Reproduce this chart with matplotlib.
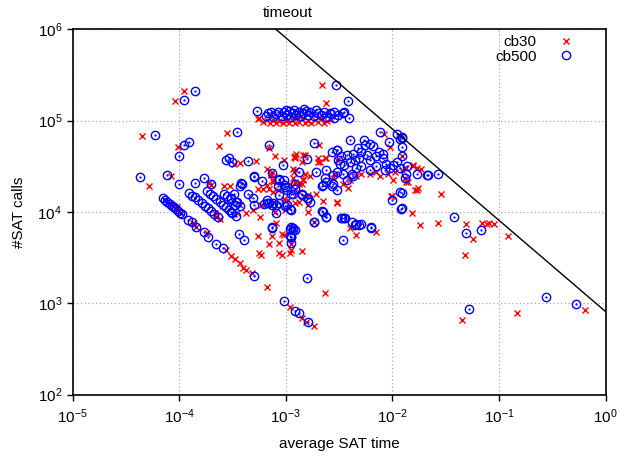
import matplotlib
matplotlib.use("Agg")
import matplotlib.pyplot as plt
import numpy as np

# (log10 avg SAT time, log10 #SAT calls)
CB30 = [
    (-3.95, 5.33), (-4.04, 5.22), (-4.35, 4.83), (-3.55, 4.87), (-4.01, 4.71), (-3.63, 4.72),
    (-4.08, 4.39), (-4.28, 4.29), (-3.72, 4.32), (-3.70, 4.30), (-3.58, 4.28), (-3.52, 4.29),
    (-3.49, 4.53), (-3.43, 4.54), (-3.28, 4.56), (-3.18, 4.30), (-3.10, 4.61), (-3.18, 4.47),
    (-3.14, 4.42), (-2.92, 4.60), (-2.92, 4.44),
    # diagonal bands
    (-4.13, 4.13), (-4.07, 4.08), (-4.03, 4.03), (-3.98, 3.99), (-4.02, 4.05), (-3.87, 3.88),
    (-3.84, 3.84), (-3.74, 3.77), (-3.65, 3.95), (-3.62, 3.92), (-3.66, 3.99), (-3.56, 3.58),
    (-3.51, 3.52), (-3.48, 3.48), (-3.43, 3.44), (-3.40, 3.39), (-3.37, 3.37), (-3.32, 3.33),
    (-3.18, 3.18),
    # middle
    (-3.12, 4.33), (-2.91, 4.33), (-2.85, 4.31), (-3.26, 4.25), (-3.21, 4.25), (-3.16, 4.25),
    (-3.12, 4.22), (-2.88, 4.22), (-2.79, 4.19), (-2.72, 4.20), (-3.43, 4.08), (-3.37, 3.99),
    (-3.31, 4.02), (-3.23, 4.08), (-3.46, 3.99), (-3.24, 3.94), (-3.10, 4.00), (-3.02, 4.14),
    (-2.88, 4.11), (-2.79, 4.08), (-2.79, 4.00), (-2.65, 4.12), (-2.52, 4.10), (-3.09, 3.88),
    (-3.26, 3.74), (-3.13, 3.74), (-3.04, 3.76), (-3.16, 3.65), (-3.06, 3.66), (-3.25, 3.55),
    (-3.23, 3.53), (-3.06, 3.55), (-3.04, 3.53), (-2.95, 3.65), (-2.95, 3.58), (-2.96, 3.55),
    (-2.85, 3.57), (-2.74, 3.89), (-2.63, 3.11), (-2.96, 2.96), (-2.85, 2.84), (-2.81, 2.80),
    (-2.74, 2.75), (-2.40, 3.82), (-2.34, 3.75), (-2.15, 3.78), (-2.00, 4.17),
    # right side
    (-1.35, 2.82), (-0.83, 2.89), (-0.19, 2.93), (-1.85, 4.33), (-1.77, 4.24), (-1.54, 4.20),
    (-1.82, 3.99), (-1.74, 3.86), (-1.57, 3.88), (-1.31, 3.87), (-1.16, 3.88), (-1.11, 3.87),
    (-1.09, 3.88), (-1.05, 3.87), (-1.24, 3.70), (-1.32, 3.53), (-0.92, 3.74),
    (-1.87, 4.48), (-1.81, 4.50), (-1.77, 4.48), (-1.91, 4.61), (-1.87, 4.33), (-1.76, 4.26),
    # upper middle
    (-2.66, 5.39), (-2.62, 5.19), (-3.16, 4.70), (-2.69, 4.73), (-2.90, 4.64), (-2.84, 4.62),
    (-2.91, 4.59), (-2.70, 4.55), (-2.62, 4.59), (-3.13, 4.44), (-2.93, 4.47), (-2.93, 4.37),
    (-3.14, 4.41), (-3.12, 4.35), (-2.84, 4.36),
    (-2.08, 4.85), (-2.02, 4.71), (-2.91, 4.61), (-2.82, 4.62), (-2.85, 4.55), (-2.90, 4.46),
    (-2.82, 4.42), (-2.84, 4.35), (-2.88, 4.31), (-2.96, 4.31), (-2.77, 4.39), (-2.68, 4.55),
    (-2.70, 4.59), (-2.63, 4.59), (-2.52, 4.57), (-2.54, 4.42), (-2.56, 4.37), (-2.46, 4.31),
    (-2.42, 4.26), (-2.52, 4.11), (-2.40, 4.35), (-2.34, 4.39), (-2.29, 4.42), (-2.21, 4.42),
    (-2.15, 4.44), (-2.12, 4.39), (-2.04, 4.42), (-1.98, 4.44), (-1.91, 4.46), (-1.81, 4.51),
    (-1.73, 4.47), (-1.88, 4.37), (-1.79, 4.24), (-2.01, 4.17), (-1.99, 4.35), (-3.02, 4.57),
    (-3.07, 4.24), (-3.02, 3.75), (-2.98, 4.13), (-2.91, 4.10), (-3.01, 4.02),
    # cluster near 1e5 calls
    (-3.25, 5.03), (-3.26, 5.02), (-3.21, 4.99), (-3.18, 5.01), (-3.15, 4.98), (-3.12, 5.01),
    (-3.09, 4.98), (-3.06, 5.00), (-3.03, 4.97), (-3.00, 5.00), (-2.97, 4.98), (-2.94, 5.01),
    (-2.91, 4.97), (-2.88, 4.99), (-2.85, 5.02), (-2.82, 4.98), (-2.79, 5.00), (-2.76, 4.97),
    (-2.73, 5.01), (-2.70, 4.99), (-2.67, 5.02), (-2.64, 4.98), (-2.61, 5.00), (-2.58, 5.02),
    (-3.01, 5.03), (-2.90, 5.03),
]

CB500 = [
    (-3.85, 5.33), (-3.95, 5.23), (-4.23, 4.84), (-3.46, 4.88), (-3.91, 4.77), (-3.95, 4.73),
    (-4.00, 4.61), (-3.56, 4.57), (-3.53, 4.59), (-3.50, 4.55), (-4.37, 4.38), (-4.11, 4.41),
    (-4.00, 4.31), (-3.85, 4.32), (-3.77, 4.37), (-3.70, 4.31), (-3.35, 4.56), (-3.30, 4.38),
    (-3.22, 4.34), (-3.16, 4.73), (-3.03, 4.51), (-3.13, 4.43), (-2.88, 4.44), (-3.42, 4.32),
    # band 1
    (-4.15, 4.15), (-4.13, 4.13), (-4.11, 4.11), (-4.09, 4.09), (-4.07, 4.07), (-4.05, 4.05),
    (-4.03, 4.03), (-4.01, 4.01), (-3.99, 3.99), (-3.97, 3.98),
    (-3.92, 3.91), (-3.88, 3.89), (-3.84, 3.84), (-3.77, 3.78), (-3.73, 3.73), (-3.65, 3.65),
    (-3.59, 3.61), (-3.30, 3.30),
    # band 2
    (-3.91, 4.21), (-3.88, 4.18), (-3.85, 4.16), (-3.82, 4.13), (-3.79, 4.10), (-3.76, 4.07),
    (-3.73, 4.04), (-3.70, 4.01), (-3.67, 3.98), (-3.64, 3.95),
    # band 3
    (-3.74, 4.23), (-3.71, 4.20), (-3.68, 4.17), (-3.65, 4.14), (-3.62, 4.11), (-3.59, 4.08),
    (-3.56, 4.05), (-3.53, 4.02), (-3.50, 3.99), (-3.47, 3.96),
    # band 4
    (-3.58, 4.20), (-3.55, 4.17), (-3.51, 4.14), (-3.47, 4.11), (-3.43, 4.07),
    # middle
    (-2.80, 3.28), (-3.44, 3.76), (-3.39, 3.69), (-3.13, 3.83), (-2.96, 3.81), (-2.91, 3.80),
    (-2.96, 3.74), (-2.95, 3.66), (-2.74, 3.89), (-2.66, 4.01), (-2.62, 3.95), (-2.47, 3.93),
    (-2.44, 3.93), (-2.38, 3.89), (-2.34, 3.87), (-2.29, 3.87), (-2.20, 3.83), (-2.46, 3.69),
    (-2.00, 4.13), (-1.91, 4.21), (-1.92, 4.03), (-2.80, 4.15), (-2.77, 4.11), (-2.95, 4.20),
    (-2.85, 4.20), (-2.91, 4.25), (-3.01, 4.27), (-3.07, 4.28), (-3.06, 4.19), (-2.99, 4.08),
    (-3.09, 4.08), (-3.20, 4.09), (-3.18, 4.10), (-3.35, 4.20), (-3.31, 4.15), (-3.30, 4.08),
    (-3.49, 4.20), (-3.51, 4.15), (-3.46, 4.11), (-3.48, 4.08), (-3.51, 4.00), (-2.66, 4.29),
    (-2.62, 4.33), (-2.56, 4.31),
    (-3.18, 4.13), (-3.16, 4.10), (-3.12, 4.10), (-3.06, 4.10), (-3.01, 4.07), (-2.96, 4.03),
    (-2.95, 3.84), (-2.93, 3.80), (-2.95, 3.73), (-3.13, 3.84), (-3.02, 4.35),
    # lower / right
    (-3.02, 3.03), (-2.91, 2.92), (-2.88, 2.89), (-2.79, 2.80), (-1.28, 2.94), (-0.56, 3.07),
    (-0.28, 2.99), (-1.42, 3.95), (-1.31, 3.77), (-1.17, 3.80),
    (-1.91, 4.81), (-1.91, 4.71), (-1.91, 4.61), (-1.86, 4.50), (-1.77, 4.42), (-1.67, 4.41),
    (-1.57, 4.42), (-1.88, 4.37),
    # upper middle
    (-2.53, 5.39), (-2.42, 5.22), (-2.41, 5.03), (-2.46, 5.08), (-2.45, 5.09), (-2.74, 4.76),
    (-2.52, 4.68), (-2.80, 4.58), (-2.72, 4.44), (-3.30, 4.39), (-3.06, 4.36), (-2.91, 4.31),
    (-3.41, 4.31), (-3.43, 4.28),
    (-2.12, 4.88), (-1.96, 4.85), (-1.91, 4.82), (-1.93, 4.80), (-2.40, 4.79), (-2.03, 4.77),
    (-2.27, 4.79), (-2.26, 4.73), (-2.21, 4.75), (-2.18, 4.72), (-2.13, 4.66), (-2.09, 4.64),
    (-2.32, 4.70), (-2.29, 4.66), (-2.24, 4.62), (-2.37, 4.64), (-2.43, 4.62), (-2.48, 4.61),
    (-2.51, 4.57), (-2.57, 4.66), (-2.52, 4.68), (-2.49, 4.53), (-2.45, 4.51), (-2.40, 4.55),
    (-2.35, 4.57), (-2.31, 4.59), (-2.21, 4.57), (-2.15, 4.61), (-2.09, 4.59), (-2.06, 4.53),
    (-1.99, 4.51), (-1.96, 4.55), (-1.93, 4.48), (-1.87, 4.42), (-1.68, 4.41), (-2.02, 4.48),
    (-2.07, 4.46), (-2.15, 4.50), (-2.21, 4.46), (-2.29, 4.50), (-2.34, 4.48), (-2.38, 4.42),
    (-2.46, 4.42), (-2.52, 4.44), (-2.56, 4.41), (-2.62, 4.46), (-2.63, 4.37), (-2.65, 4.30),
    (-2.57, 4.28), (-2.52, 4.24), (-2.43, 4.35), (-2.37, 4.39),
    (-2.99, 4.24), (-2.93, 4.20), (-2.85, 4.19), (-2.79, 4.15), (-3.06, 4.35), (-3.02, 4.30),
    (-3.13, 4.08), (-3.09, 3.99), (-2.95, 4.02), (-2.93, 3.82), (-2.95, 3.73), (-2.74, 3.89),
    (-2.65, 4.00), (-2.62, 3.95), (-2.48, 3.93), (-2.45, 3.93), (-2.35, 3.86), (-2.31, 3.86),
    (-2.20, 3.84), (-1.93, 4.22), (-1.91, 4.04),
    # cluster near 1e5 calls
    (-3.27, 5.11), (-3.19, 5.05), (-3.17, 5.08), (-3.12, 5.04), (-3.09, 5.07), (-3.07, 5.10),
    (-3.04, 5.05), (-3.02, 5.09), (-2.99, 5.06), (-2.97, 5.11), (-2.95, 5.04), (-2.93, 5.08),
    (-2.90, 5.06), (-2.88, 5.10), (-2.86, 5.05), (-2.84, 5.08), (-2.81, 5.11), (-2.79, 5.06),
    (-2.77, 5.09), (-2.74, 5.05), (-2.72, 5.12), (-2.70, 5.08), (-2.67, 5.06), (-2.64, 5.10),
    (-2.62, 5.04), (-2.58, 5.07), (-2.55, 5.09), (-3.00, 5.12), (-2.92, 5.12), (-3.14, 5.09),
    (-2.83, 5.13), (-2.51, 5.06), (-2.59, 5.08), (-2.55, 5.03),
]

TIMEOUT = 810  # time * calls along the timeout line

plt.rcParams["font.family"] = ["Liberation Sans", "DejaVu Sans"]
plt.rcParams["mathtext.fontset"] = "custom"
plt.rcParams["mathtext.rm"] = "Liberation Sans"
plt.rcParams["mathtext.it"] = "Liberation Sans:italic"

fig = plt.figure(figsize=(6.3, 4.57), dpi=100)
ax = fig.add_axes([0.1151, 0.1365, 0.8463, 0.7992])

cb30 = 10 ** np.array(CB30)
cb500 = 10 ** np.array(CB500)

ax.plot(cb30[:, 0], cb30[:, 1], linestyle="none", marker="x", color="red",
        ms=5, mew=1.0, label="cb30")
ax.plot(cb500[:, 0], cb500[:, 1], linestyle="none", marker="o", mfc="none",
        mec="blue", ms=6, mew=1.0, label="cb500")
ax.plot(cb500[:, 0], cb500[:, 1], linestyle="none", marker=".", color="blue", ms=1.2)

tx = np.array([1e-5, 1.0])
ax.plot(tx, TIMEOUT / tx, color="black", lw=1.0)

ax.set_xscale("log")
ax.set_yscale("log")
ax.set_xlim(1e-5, 1)
ax.set_ylim(1e2, 1e6)
ax.set_xticks([1e-5, 1e-4, 1e-3, 1e-2, 1e-1, 1])
ax.set_yticks([1e2, 1e3, 1e4, 1e5, 1e6])
ax.minorticks_off()
ax.tick_params(labelsize=11, direction="out", length=4, width=1)
ax.tick_params(axis="x", pad=5)
for s in ax.spines.values():
    s.set_linewidth(1.2)

ax.grid(True, color="#a8a8a8", linestyle=(0, (1, 2)), linewidth=0.9)

ax.set_xlabel("average SAT time", fontsize=11, labelpad=8)
ax.set_ylabel("#SAT calls", fontsize=11, labelpad=8)
ax.text(0.404, 1.044, "timeout", transform=ax.transAxes, ha="center", va="center",
        fontsize=11)

ax.legend(loc="upper right", bbox_to_anchor=(0.939, 0.985), frameon=False,
          markerfirst=False, fontsize=11, handlelength=1.0, handletextpad=1.4,
          borderpad=0, borderaxespad=0, labelspacing=0.05)

fig.savefig("out.png", dpi=100)
